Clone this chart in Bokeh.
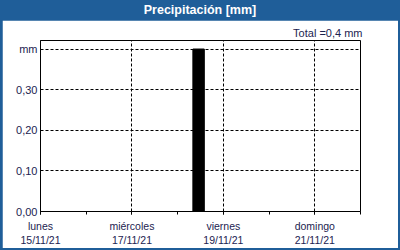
from datetime import datetime, timedelta
from bokeh.plotting import figure
from bokeh.models import FixedTicker, Range1d, Title, Div
from bokeh.layouts import column
from bokeh.embed import file_html
from bokeh.resources import INLINE

# ---- data ----
bar_start = [datetime(2021, 11, 18, 8, 0)]
bar_end = [datetime(2021, 11, 18, 14, 0)]
precip = [0.4]

x_start = datetime(2021, 11, 15)
x_end = datetime(2021, 11, 22)
day_names = ["lunes", "miércoles", "viernes", "domingo"]
label_dates = [datetime(2021, 11, 15), datetime(2021, 11, 17),
               datetime(2021, 11, 19), datetime(2021, 11, 21)]
minor_dates = [datetime(2021, 11, 15) + timedelta(days=i) for i in range(8)]
y_ticks = [0.0, 0.1, 0.2, 0.3, 0.4]
y_labels = ["0,00", "0,10", "0,20", "0,30", "mm"]
title_text = "Precipitación [mm]"
total_text = "Total =0,4 mm"

BLUE = "#1F5E99"
TXT = "#1C2350"
FONT = "Liberation Sans"


def ms(d):
    return (d - datetime(1970, 1, 1)).total_seconds() * 1000.0


p = figure(width=396, height=228, output_backend="svg", toolbar_location=None,
           x_range=Range1d(ms(x_start), ms(x_end)), y_range=Range1d(0, 0.421),
           min_border_left=38, min_border_right=38, min_border_top=20,
           min_border_bottom=37, margin=0)
p.background_fill_color = "white"
p.border_fill_color = "white"
p.outline_line_color = "black"
p.outline_line_width = 1

p.quad(left=[ms(d) for d in bar_start], right=[ms(d) for d in bar_end],
       bottom=[0] * len(precip), top=precip, fill_color="black", line_color="black")

# x axis
xa = p.xaxis[0]
xa.ticker = FixedTicker(ticks=[ms(d) for d in label_dates],
                        minor_ticks=[ms(d) for d in minor_dates])
xa.major_label_overrides = {ms(d): f"{n}\n{d.strftime('%d/%m/%y')}"
                            for d, n in zip(label_dates, day_names)}
xa.major_tick_in = 0
xa.major_tick_out = 3
xa.minor_tick_in = 0
xa.minor_tick_out = 3
xa.axis_line_color = "black"
xa.major_tick_line_color = "black"
xa.minor_tick_line_color = "black"
xa.major_label_text_font = FONT
xa.major_label_text_font_size = "10.5px"
xa.major_label_text_color = TXT
xa.major_label_standoff = 5

ya = p.yaxis[0]
ya.ticker = FixedTicker(ticks=y_ticks, minor_ticks=[])
ya.major_label_overrides = {t: l for t, l in zip(y_ticks, y_labels)}
ya.major_tick_in = 0
ya.major_tick_out = 0
ya.minor_tick_out = 0
ya.axis_line_color = "black"
ya.major_label_text_font = FONT
ya.major_label_text_font_size = "11px"
ya.major_label_text_color = TXT
ya.major_label_standoff = 3

p.xgrid.grid_line_color = "black"
p.xgrid.grid_line_dash = "3 2"
p.ygrid.grid_line_color = "black"
p.ygrid.grid_line_dash = "3 2"

p.add_layout(Title(text=total_text, align="right", text_color=TXT,
                   text_font=FONT, text_font_size="11px", text_font_style="normal",
                   offset=-2, standoff=3), "above")

header = Div(text=title_text, width=400, height=20, margin=0,
             styles={"background-color": BLUE, "color": "white",
                     "font-family": FONT, "font-weight": "bold",
                     "font-size": "12.5px", "text-align": "center",
                     "line-height": "20px", "width": "400px", "height": "20px"})

body = column(p, width=400, height=230, margin=0,
              styles={"background-color": BLUE, "padding": "0px 2px 2px 2px"})
layout = column(header, body, width=400, height=250, spacing=0, margin=0)

open("out.html", "w").write(file_html(layout, INLINE))
